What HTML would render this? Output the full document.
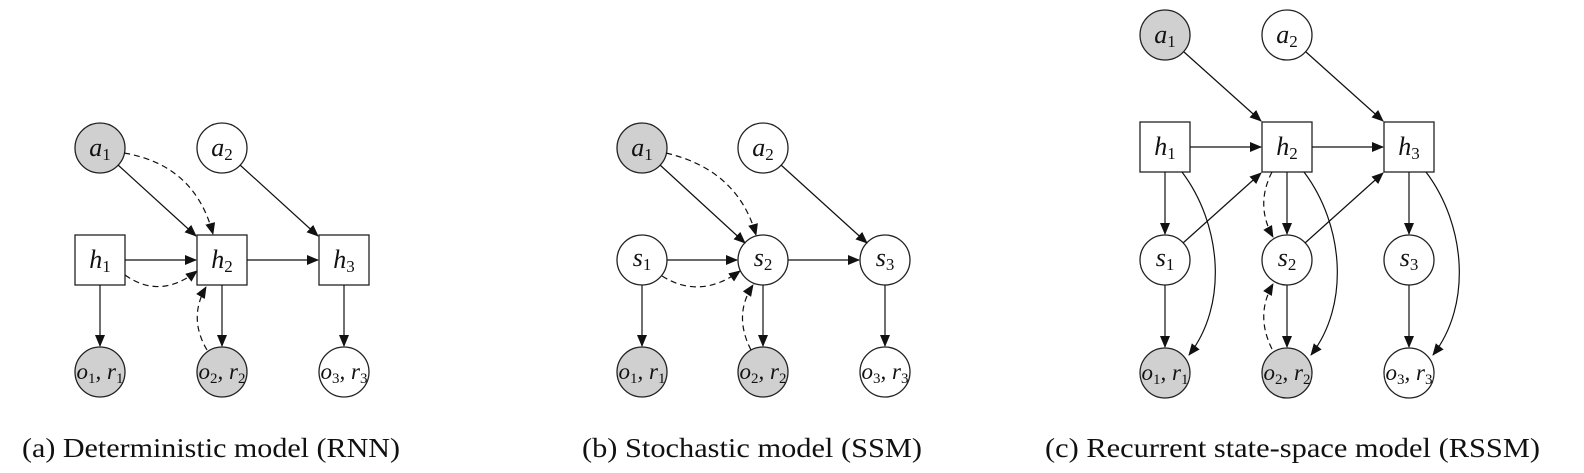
<!DOCTYPE html>
<html><head><meta charset="utf-8"><style>
html,body{margin:0;padding:0;background:#fff;}
svg{display:block;}
.n{fill:#fff;stroke:#222;stroke-width:1.3;}
.g{fill:#d0d0d0;stroke:#222;stroke-width:1.3;}
.e{stroke:#111;stroke-width:1.2;fill:none;marker-end:url(#ar);}
.d{stroke:#111;stroke-width:1.2;fill:none;stroke-dasharray:6,4;marker-end:url(#ar);}
.l{font-family:"Liberation Serif",serif;font-style:italic;font-size:26px;fill:#111;}
.l tspan.s{font-style:normal;font-size:17px;}
.o{font-size:23px;}
.o tspan.s{font-size:15px;}
.c{font-family:"Liberation Serif",serif;font-size:27px;fill:#111;}
</style></head><body>
<svg width="1584" height="473" viewBox="0 0 1584 473" xmlns="http://www.w3.org/2000/svg">
<defs><marker id="ar" markerWidth="12" markerHeight="10" refX="11" refY="5" orient="auto" markerUnits="userSpaceOnUse"><path d="M0,0 L12,5 L0,10 z" fill="#111"/></marker></defs>

<!-- Panel a -->
<circle class="g" cx="100" cy="148" r="25"/>
<circle class="n" cx="222" cy="148" r="25"/>
<rect class="n" x="75" y="235" width="50" height="50"/>
<rect class="n" x="197" y="235" width="50" height="50"/>
<rect class="n" x="319" y="235" width="50" height="50"/>
<circle class="g" cx="100" cy="372" r="25"/>
<circle class="g" cx="222" cy="372" r="25"/>
<circle class="n" cx="344" cy="372" r="25"/>
<line class="e" x1="118" y1="165" x2="196" y2="236"/>
<line class="e" x1="240" y1="165" x2="318" y2="236"/>
<line class="e" x1="125" y1="260" x2="196" y2="260"/>
<line class="e" x1="247" y1="260" x2="318" y2="260"/>
<line class="e" x1="100" y1="285" x2="100" y2="346"/>
<line class="e" x1="222" y1="285" x2="222" y2="346"/>
<line class="e" x1="344" y1="285" x2="344" y2="346"/>
<path class="d" d="M124,153 Q195,165 213,234"/>
<path class="d" d="M125,275 Q160,300 197,271"/>
<path class="d" d="M207,350 Q188,318 206,287"/>
<g text-anchor="middle">
<text class="l" x="100" y="156">a<tspan class="s" dy="4">1</tspan></text>
<text class="l" x="222" y="156">a<tspan class="s" dy="4">2</tspan></text>
<text class="l" x="100" y="268">h<tspan class="s" dy="4">1</tspan></text>
<text class="l" x="222" y="268">h<tspan class="s" dy="4">2</tspan></text>
<text class="l" x="344" y="268">h<tspan class="s" dy="4">3</tspan></text>
<text class="l o" x="100" y="379">o<tspan class="s" dy="4">1</tspan><tspan dy="-4">, r</tspan><tspan class="s" dy="4">1</tspan></text>
<text class="l o" x="222" y="379">o<tspan class="s" dy="4">2</tspan><tspan dy="-4">, r</tspan><tspan class="s" dy="4">2</tspan></text>
<text class="l o" x="344" y="379">o<tspan class="s" dy="4">3</tspan><tspan dy="-4">, r</tspan><tspan class="s" dy="4">3</tspan></text>
</g>
<text class="c" x="22" y="457" textLength="378" lengthAdjust="spacingAndGlyphs">(a) Deterministic model (RNN)</text>

<!-- Panel b -->
<circle class="g" cx="642" cy="148" r="25"/>
<circle class="n" cx="763" cy="148" r="25"/>
<circle class="n" cx="642" cy="260" r="25"/>
<circle class="n" cx="763" cy="260" r="25"/>
<circle class="n" cx="885" cy="260" r="25"/>
<circle class="g" cx="642" cy="372" r="25"/>
<circle class="g" cx="763" cy="372" r="25"/>
<circle class="n" cx="885" cy="372" r="25"/>
<line class="e" x1="660" y1="165" x2="745" y2="243"/>
<line class="e" x1="781" y1="165" x2="867" y2="243"/>
<line class="e" x1="667" y1="260" x2="737" y2="260"/>
<line class="e" x1="788" y1="260" x2="859" y2="260"/>
<line class="e" x1="642" y1="285" x2="642" y2="346"/>
<line class="e" x1="763" y1="285" x2="763" y2="346"/>
<line class="e" x1="885" y1="285" x2="885" y2="346"/>
<path class="d" d="M666,153 Q738,170 756,235"/>
<path class="d" d="M662,276 Q700,300 740,271"/>
<path class="d" d="M751,350 Q733,315 753,285"/>
<g text-anchor="middle">
<text class="l" x="642" y="156">a<tspan class="s" dy="4">1</tspan></text>
<text class="l" x="763" y="156">a<tspan class="s" dy="4">2</tspan></text>
<text class="l" x="642" y="266">s<tspan class="s" dy="4">1</tspan></text>
<text class="l" x="763" y="266">s<tspan class="s" dy="4">2</tspan></text>
<text class="l" x="885" y="266">s<tspan class="s" dy="4">3</tspan></text>
<text class="l o" x="642" y="379">o<tspan class="s" dy="4">1</tspan><tspan dy="-4">, r</tspan><tspan class="s" dy="4">1</tspan></text>
<text class="l o" x="763" y="379">o<tspan class="s" dy="4">2</tspan><tspan dy="-4">, r</tspan><tspan class="s" dy="4">2</tspan></text>
<text class="l o" x="885" y="379">o<tspan class="s" dy="4">3</tspan><tspan dy="-4">, r</tspan><tspan class="s" dy="4">3</tspan></text>
</g>
<text class="c" x="582" y="457" textLength="340" lengthAdjust="spacingAndGlyphs">(b) Stochastic model (SSM)</text>

<!-- Panel c -->
<circle class="g" cx="1165" cy="35" r="25"/>
<circle class="n" cx="1287" cy="35" r="25"/>
<rect class="n" x="1140" y="122" width="50" height="50"/>
<rect class="n" x="1262" y="122" width="50" height="50"/>
<rect class="n" x="1384" y="122" width="50" height="50"/>
<circle class="n" cx="1165" cy="260" r="25"/>
<circle class="n" cx="1287" cy="260" r="25"/>
<circle class="n" cx="1409" cy="260" r="25"/>
<circle class="g" cx="1165" cy="373" r="25"/>
<circle class="g" cx="1287" cy="373" r="25"/>
<circle class="n" cx="1409" cy="373" r="25"/>
<line class="e" x1="1184" y1="52" x2="1261" y2="121"/>
<line class="e" x1="1306" y1="52" x2="1383" y2="121"/>
<line class="e" x1="1190" y1="147" x2="1261" y2="147"/>
<line class="e" x1="1312" y1="147" x2="1383" y2="147"/>
<line class="e" x1="1165" y1="172" x2="1165" y2="234"/>
<line class="e" x1="1287" y1="172" x2="1287" y2="234"/>
<line class="e" x1="1409" y1="172" x2="1409" y2="234"/>
<line class="e" x1="1165" y1="285" x2="1165" y2="347"/>
<line class="e" x1="1287" y1="285" x2="1287" y2="347"/>
<line class="e" x1="1409" y1="285" x2="1409" y2="347"/>
<line class="e" x1="1183" y1="243" x2="1261" y2="173"/>
<line class="e" x1="1305" y1="243" x2="1383" y2="173"/>
<path class="e" d="M1182,172 C1222,225 1228,305 1189,355"/>
<path class="e" d="M1304,172 C1344,225 1350,305 1311,355"/>
<path class="e" d="M1426,172 C1466,225 1472,305 1433,355"/>
<path class="d" d="M1272,172 Q1255,205 1273,237"/>
<path class="d" d="M1272,349 Q1255,315 1273,284"/>
<g text-anchor="middle">
<text class="l" x="1165" y="43">a<tspan class="s" dy="4">1</tspan></text>
<text class="l" x="1287" y="43">a<tspan class="s" dy="4">2</tspan></text>
<text class="l" x="1165" y="155">h<tspan class="s" dy="4">1</tspan></text>
<text class="l" x="1287" y="155">h<tspan class="s" dy="4">2</tspan></text>
<text class="l" x="1409" y="155">h<tspan class="s" dy="4">3</tspan></text>
<text class="l" x="1165" y="266">s<tspan class="s" dy="4">1</tspan></text>
<text class="l" x="1287" y="266">s<tspan class="s" dy="4">2</tspan></text>
<text class="l" x="1409" y="266">s<tspan class="s" dy="4">3</tspan></text>
<text class="l o" x="1165" y="380">o<tspan class="s" dy="4">1</tspan><tspan dy="-4">, r</tspan><tspan class="s" dy="4">1</tspan></text>
<text class="l o" x="1287" y="380">o<tspan class="s" dy="4">2</tspan><tspan dy="-4">, r</tspan><tspan class="s" dy="4">2</tspan></text>
<text class="l o" x="1409" y="380">o<tspan class="s" dy="4">3</tspan><tspan dy="-4">, r</tspan><tspan class="s" dy="4">3</tspan></text>
</g>
<text class="c" x="1045" y="457" textLength="495" lengthAdjust="spacingAndGlyphs">(c) Recurrent state-space model (RSSM)</text>
</svg>
</body></html>
